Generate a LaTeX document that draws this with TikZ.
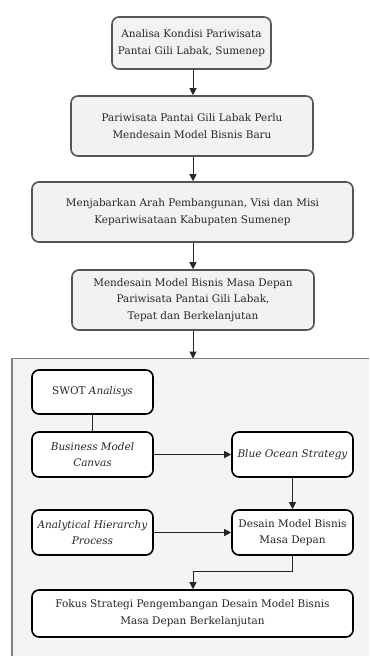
\documentclass[tikz,border=0pt]{standalone}
\usepackage{fontspec}
\setmainfont{DejaVu Serif}
\usetikzlibrary{arrows.meta}
\definecolor{boxgray}{HTML}{F2F2F2}
\definecolor{panelgray}{HTML}{F4F4F4}
\definecolor{edgegray}{HTML}{555555}
\definecolor{txt}{HTML}{262626}
\tikzset{
  topbox/.style={draw=edgegray, line width=1.6bp, fill=boxgray, rounded corners=7bp, align=center, text=txt, font=\fontsize{10.5}{16.8}\selectfont, inner sep=0pt},
  inbox/.style={draw=black, line width=1.6bp, fill=white, rounded corners=7bp, align=center, text=txt, font=\fontsize{10.5}{16.8}\selectfont, inner sep=0pt},
  conn/.style={draw=black!85, line width=1bp, -{Triangle[length=7bp,width=7bp]}},
  plain/.style={draw=black!85, line width=1bp}
}
\begin{document}
\begin{tikzpicture}[x=1bp,y=-1bp]
\clip (0,0) rectangle (369,656);
\fill[white] (0,0) rectangle (369,656);
% panel
\draw[draw=gray, line width=1.6bp, fill=panelgray] (11.7,358.5) rectangle (380,670);
% top column
\node[topbox, minimum width=159bp, minimum height=52bp] (a) at (191.5,43) {Analisa Kondisi Pariwisata\\Pantai Gili Labak, Sumenep};
\node[topbox, minimum width=242bp, minimum height=60bp] (b) at (192,126) {Pariwisata Pantai Gili Labak Perlu\\Mendesain Model Bisnis Baru};
\node[topbox, minimum width=321bp, minimum height=60bp] (c) at (192.5,212) {Menjabarkan Arah Pembangunan, Visi dan Misi\\Kepariwisataan Kabupaten Sumenep};
\node[topbox, minimum width=242bp, minimum height=60bp] (d) at (193,300) {Mendesain Model Bisnis Masa Depan\\Pariwisata Pantai Gili Labak,\\Tepat dan Berkelanjutan};
\coordinate (pt) at (193,358.5);
% inner boxes
\node[inbox, minimum width=121bp, minimum height=44bp] (swot) at (92.5,392) {SWOT \textit{Analisys}};
\node[inbox, minimum width=121bp, minimum height=45bp] (bmc) at (92.5,454.5) {\textit{Business Model}\\\textit{Canvas}};
\node[inbox, minimum width=121bp, minimum height=45bp] (bos) at (292.5,454.5) {\textit{Blue Ocean Strategy}};
\node[inbox, minimum width=121bp, minimum height=45bp] (ahp) at (92.5,532.5) {\textit{Analytical Hierarchy}\\\textit{Process}};
\node[inbox, minimum width=121bp, minimum height=45bp] (dmb) at (292.5,532.5) {Desain Model Bisnis\\Masa Depan};
\node[inbox, minimum width=321bp, minimum height=47bp] (fok) at (192.5,613.5) {Fokus Strategi Pengembangan Desain Model Bisnis\\Masa Depan Berkelanjutan};
% connectors
\draw[conn] (a.south -| 193,0) -- (b.north -| 193,0);
\draw[conn] (b.south -| 193,0) -- (c.north -| 193,0);
\draw[conn] (c.south -| 193,0) -- (d.north -| 193,0);
\draw[conn] (d.south -| 193,0) -- (pt);
\draw[plain] (swot) -- (bmc);
\draw[conn] (bmc) -- (bos);
\draw[conn] (bos) -- (dmb);
\draw[conn] (ahp) -- (dmb);
\draw[conn] (dmb.south) -- ++(0,16) -| (fok.north -| 193,0);
\end{tikzpicture}
\end{document}
